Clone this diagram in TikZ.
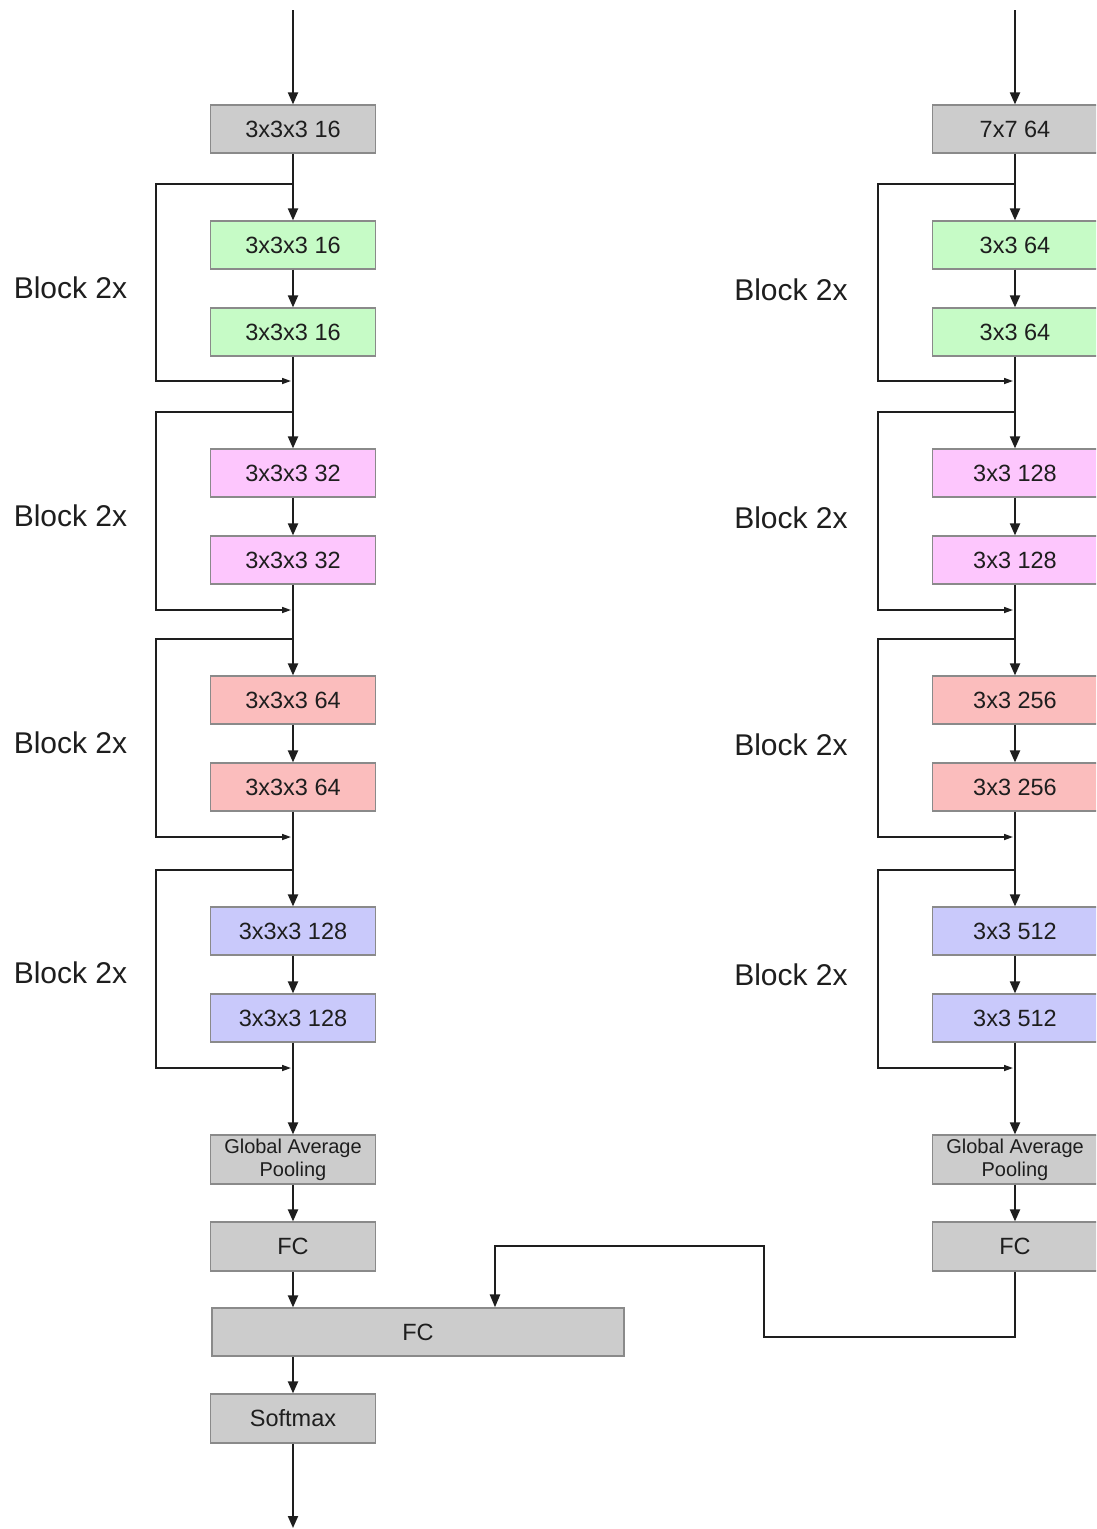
\documentclass[tikz,border=0pt]{standalone}
\usepackage{fontspec}
\setmainfont{Liberation Sans}
\usetikzlibrary{arrows.meta}
\definecolor{cgray}{HTML}{CCCCCC}
\definecolor{cgreen}{HTML}{C6FBC6}
\definecolor{cmag}{HTML}{FDC6FD}
\definecolor{cred}{HTML}{FBBDBD}
\definecolor{cblue}{HTML}{C9C9FB}
\definecolor{ink}{HTML}{1E1E1E}
\definecolor{edge}{HTML}{8A8A8A}
\tikzset{
  box/.style={draw=edge,line width=1.2pt,minimum width=165pt,minimum height=48pt,inner sep=0pt,
    text=ink,font=\fontsize{23.5}{26}\selectfont},
  gapbox/.style={box,minimum height=49pt,align=center,font=\fontsize{20}{24}\selectfont},
  lbl/.style={text=ink,font=\fontsize{30}{34}\selectfont,inner sep=0pt},
  arr/.style={draw=ink,line width=2pt,-{Triangle[length=12pt,width=10pt]}},
  skipln/.style={draw=ink,line width=1.6pt,-{Triangle[length=9pt,width=6pt]}},
  link/.style={draw=ink,line width=2.4pt,-{Triangle[length=13pt,width=10pt]}},
}
\newcommand\drawcolumn[8]{%
  % #1 prefix, #2 centre x, #3 skip x, #4 label x, #5 first label, #6 kernel, #7 base channels, #8 label y shift
  \coordinate (#1top) at (#2,10);
  \node[box,fill=cgray] (#1in) at (#2,129) {#5};
  \draw[arr] (#1top) -- (#1in);
  \foreach \i/\ya/\yb/\st/\sb/\col/\ly in {1/245/332/184/381/cgreen/288,2/473/560/412/610/cmag/516,3/700/787/639/837/cred/743,4/931/1018/870/1068/cblue/973}{
    \pgfmathtruncatemacro\ch{#7*2^(\i-1)}
    \node[box,fill=\col] (#1b\i-a) at (#2,\ya) {#6 \ch};
    \node[box,fill=\col] (#1b\i-b) at (#2,\yb) {#6 \ch};
    \draw[arr] (#1b\i-a) -- (#1b\i-b);
    \coordinate (#1s\i-t) at (#2,\st);
    \coordinate (#1s\i-e) at (#2-2,\sb);
    \draw[skipln] (#1s\i-t) -- ++({#3-#2},0) |- (#1s\i-e);
    \node[lbl] (#1l\i) at (#4,\ly+#8) {Block 2x};
  }
  \draw[arr] (#1in) -- (#1b1-a);
  \draw[arr] (#1b1-b) -- (#1b2-a);
  \draw[arr] (#1b2-b) -- (#1b3-a);
  \draw[arr] (#1b3-b) -- (#1b4-a);
  \node[gapbox,fill=cgray] (#1gap) at (#2,1159.5) {Global Average\\[-1pt]Pooling};
  \draw[arr] (#1b4-b) -- (#1gap);
  \node[box,fill=cgray,minimum height=49pt] (#1fc) at (#2,1246.5) {FC};
  \draw[arr] (#1gap) -- (#1fc);
}
\begin{document}
\begin{tikzpicture}[x=1pt,y=-1pt]
\useasboundingbox (0,0) rectangle (1096,1529);
\clip (0,0) rectangle (1096,1529);
\fill[white] (0,0) rectangle (1096,1529);
\drawcolumn{L}{293}{156}{70.5}{3x3x3 16}{3x3x3}{16}{0}
\drawcolumn{R}{1015}{878}{791}{7x7 64}{3x3}{64}{2}
\node[box,fill=cgray,minimum width=412pt] (bigfc) at (418,1332) {FC};
\node[box,fill=cgray,minimum height=49pt] (sm) at (293,1418.5) {Softmax};
\coordinate (out) at (293,1528);
\coordinate (j1) at (764,1337);
\coordinate (j2) at (495,1246);
\draw[arr] (Lfc) -- (Lfc |- bigfc.north);
\draw[arr] (bigfc.south -| sm) -- (sm);
\draw[arr] (sm) -- (out);
\draw[link,rounded corners=0pt] (Rfc.south) |- (j1) |- (j2) -- (j2 |- bigfc.north);
\end{tikzpicture}
\end{document}
